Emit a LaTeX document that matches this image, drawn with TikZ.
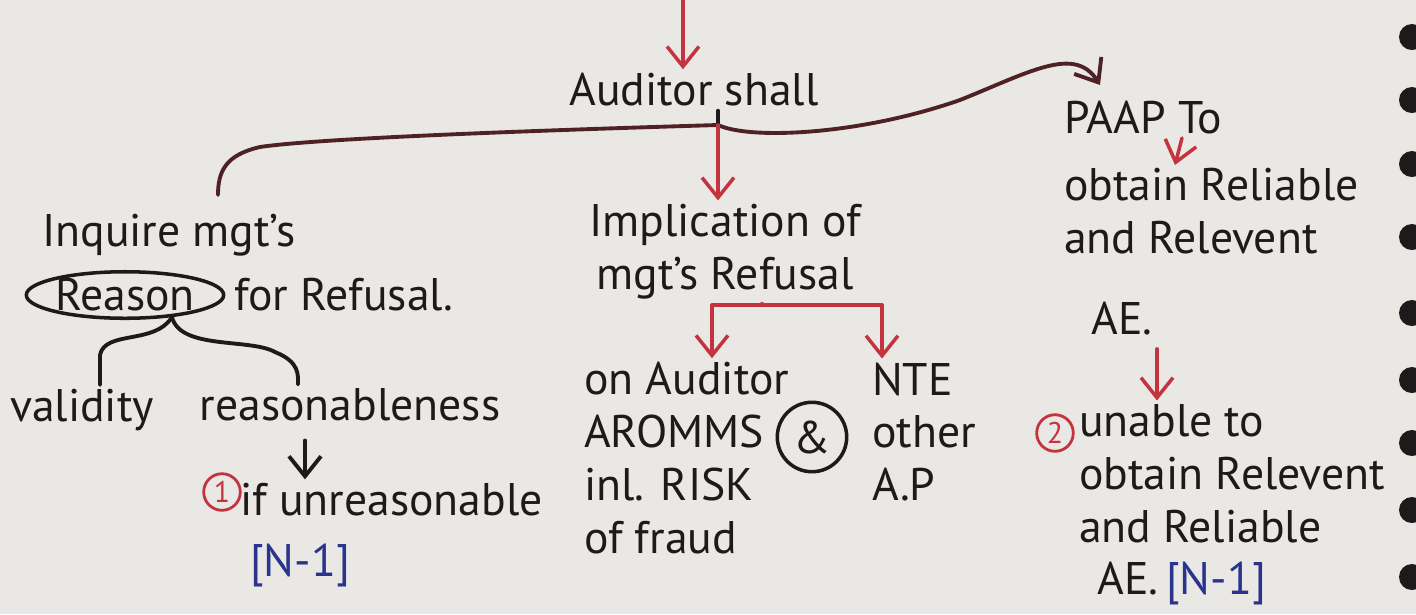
\documentclass[tikz,border=0pt]{standalone}
\usepackage{fontspec}
\setmainfont{PT Sans}
\usetikzlibrary{arrows.meta,shapes.geometric,positioning,calc}
\definecolor{paper}{RGB}{234,232,229}
\definecolor{ink}{RGB}{28,26,26}
\definecolor{redink}{RGB}{196,52,62}
\definecolor{blueink}{RGB}{42,52,140}
\tikzset{
  note/.style={text=ink, font=\fontsize{13}{15}\selectfont, inner sep=1pt},
  notes/.style={note, align=left},
  inkline/.style={draw=ink, line width=1.1pt, line cap=round},
  inkarrow/.style={inkline, -{Straight Barb[length=2mm,width=3.2mm]}},
  redarrow/.style={draw=redink, line width=1pt, line cap=round, -{Straight Barb[length=2mm,width=3.2mm]}},
  redline/.style={draw=redink, line width=1pt, line cap=round},
  numcircle/.style={circle, draw=redink, text=redink, line width=0.8pt, inner sep=1pt, font=\fontsize{8.5}{9}\selectfont}
}

\begin{document}
\begin{tikzpicture}

    % Page of the notebook
    \useasboundingbox (0,0) rectangle (14.16,-6.14);
    \clip (0,0) rectangle (14.16,-6.14);
    \fill[paper] (0,0) rectangle (14.16,-6.14);
    \foreach \y in {0.37,1.0,1.64,2.37,3.13,3.8,4.43,5.1,5.77}
      \fill[ink] (14.12,-\y) circle (0.13);

    % Top: auditor
    \node[note] (auditor) at (6.94,-0.90) {Auditor shall};
    \coordinate (top) at (6.83,0);
    \coordinate (split) at (7.18,-1.25);
    \coordinate (inqend) at (2.18,-1.95);

    % Three branches
    \node[note, anchor=west] (inquire) at (0.38,-2.35) {Inquire mgt's};
    \node[note, ellipse, draw=ink, line width=1pt, inner sep=0pt] (reason) at (1.25,-2.95) {Reason};
    \node[note, anchor=west] (refusal) at (2.3,-2.95) {for Refusal.};
    \node[note, align=center] (implic) at (7.25,-2.52) {Implication of\\mgt's Refusal};
    \node[notes, anchor=west] (paap) at (10.6,-2.18)
      {PAAP To\\[4pt]obtain Reliable\\and Relevent\\[8pt]\hspace*{0.6em}AE.};

    % Reason: validity & reasonableness
    \node[note] (validity) at (0.82,-4.1) {validity};
    \node[note] (reasonable) at (3.5,-4.05) {reasonableness};
    \node[note, anchor=west] (unreas) at (2.36,-5.0) {if unreasonable};
    \node[numcircle] (one) at (2.22,-4.92) {1};
    \node[note, text=blueink] (nleft) at (3.0,-5.65) {[N-1]};

    % Implication: on auditor & NTE
    \node[notes, anchor=west] (onaud) at (5.8,-4.58) {on Auditor\\AROMMS\\inl. RISK\\of fraud};
    \node[note, circle, draw=ink, line width=1pt, inner sep=2pt] (amp) at (8.12,-4.37) {\&};
    \node[notes, anchor=west] (nte) at (8.68,-4.32) {NTE\\other\\A.P};

    % PAAP: unable to obtain
    \node[numcircle] (two) at (10.55,-4.33) {2};
    \node[notes, anchor=west] (unable) at (10.75,-5.05)
      {unable to\\obtain Relevent\\and Reliable\\\hspace*{0.4em}AE.\,{\color{blueink}[N-1]}};

    % Arrows: top & brace of auditor
    \draw[redarrow] (top) -- (auditor.north -| top);
    \draw[inkline] (auditor.south -| split) -- (split);
    \draw[inkline, draw=ink!70!redink] (split) .. controls (5.5,-1.3) and (3.2,-1.38) .. (2.6,-1.47)
      .. controls (2.25,-1.55) and (2.18,-1.72) .. (inqend);
    \draw[inkline, draw=ink!70!redink, -{Straight Barb[length=2mm,width=3.2mm]}] (split)
      .. controls (7.5,-1.4) and (8.6,-1.35) .. (9.6,-1.0)
      .. controls (10.3,-0.72) and (10.75,-0.45) .. (11.0,-0.85);
    \draw[redarrow] (split) -- (implic.north -| split);

    % Arrows: reason
    \coordinate (rjoin) at (1.72,-3.17);
    \draw[inkline] (rjoin) .. controls (1.55,-3.45) and (1.05,-3.3) .. (1.0,-3.55) -- (validity.north -| 1.0,0);
    \draw[inkline] (rjoin) .. controls (1.8,-3.5) and (2.5,-3.38) .. (2.75,-3.52)
      .. controls (3.0,-3.62) and (2.98,-3.75) .. (reasonable.north -| 2.98,0);
    \draw[inkarrow] (reasonable.south -| 3.05,0) ++(0,-0.15) -- (unreas.north -| 3.05,0);

    % Arrows: implication
    \coordinate (ileft) at (7.12,-3.05);
    \coordinate (iright) at (8.82,-3.05);
    \draw[redline] (implic.south -| 7.62,0) -- (7.62,-3.05);
    \draw[redline] (ileft) -- (iright);
    \draw[redarrow] (ileft) -- (onaud.north -| ileft);
    \draw[redarrow] (iright) -- (nte.north -| iright);

    % Arrows: PAAP
    \coordinate (pa) at (11.82,-1.38);
    \coordinate (pb) at (11.75,-1.65);
    \draw[redarrow] (pa) -- (pb);
    \draw[redarrow] (paap.south -| 11.57,0) ++(0,-0.1) -- (unable.north -| 11.57,0);

\end{tikzpicture}
\end{document}
